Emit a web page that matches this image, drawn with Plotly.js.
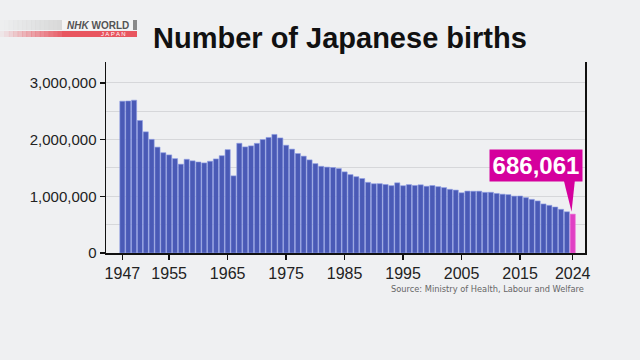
<!DOCTYPE html>
<html><head><meta charset="utf-8">
<script src="https://cdn.plot.ly/plotly-3.0.1.min.js"></script>
<style>html,body{margin:0;padding:0;background:#eff0f2;}#chart{width:640px;height:360px;}</style>
</head><body><div id="chart"></div>
<script>
const years = [];
for (let y = 1947; y <= 2024; y++) years.push(y);
const births = [
2678792,2681624,2696638,2337507,2137689,2005162,1868040,1769580,1730692,1665278,
1566713,1653469,1626088,1606041,1589372,1618616,1659521,1716761,1823697,1360974,
1935647,1871839,1889815,1934239,2000973,2038682,2091983,2029989,1901440,1832617,
1755100,1708643,1642580,1576889,1529455,1515392,1508687,1489780,1431577,1382946,
1346658,1314006,1246802,1221585,1223245,1208989,1188282,1238328,1187064,1206555,
1191665,1203147,1177669,1190547,1170662,1153855,1123610,1110721,1062530,1092674,
1089818,1091156,1070036,1071304,1050806,1037231,1029816,1003539,1005721,977242,
946146,918400,865239,840835,811622,770759,727288,686061];
const xTickVals = [1947,1955,1965,1975,1985,1995,2005,2015,2024];
const yTickVals = [0,1000000,2000000,3000000];
const yTickText = ['0','1,000,000','2,000,000','3,000,000'];
const highlightLabel = '686,061';
const titleText = 'Number of Japanese births';
const sourceText = 'Source: Ministry of Health, Labour and Welfare';

const lastYear = years[years.length-1];
const lastVal = births[births.length-1];
const colors = years.map((y,i)=> i===years.length-1 ? '#e03fc4' : '#4a5ab6');
const lineColors = years.map((y,i)=> i===years.length-1 ? '#f070d8' : '#8f9ee6');

const boxBottom = 1290000;
const shapes = [
  {type:'path', xref:'x', yref:'y',
   path:`M ${lastYear-1.6} ${boxBottom+20000} L ${lastYear+0.4} ${boxBottom+20000} L ${lastYear-0.2} ${lastVal+40000} Z`,
   fillcolor:'#d5009d', line:{width:0}}
];
const W=640,H=360,ml=106,mr=55,mt=62,mb=107;
const pw=W-ml-mr, ph=H-mt-mb;
function px(x){return (x-ml)/pw;}
function py(y){return 1-(y-mt)/ph;}
const n=14;
for(let i=0;i<n;i++){
  const x0=i*(62/n), x1=(i+1)*(62/n)+0.5;
  shapes.push({type:'rect',xref:'paper',yref:'paper',x0:px(x0),x1:px(x1),y0:py(30),y1:py(20),
    fillcolor:'#d6d6d6',opacity:(i+1)/n*0.9,line:{width:0},layer:'above'});
  shapes.push({type:'rect',xref:'paper',yref:'paper',x0:px(x0),x1:px(x1),y0:py(37),y1:py(31),
    fillcolor:'#e8646e',opacity:(i+1)/n,line:{width:0},layer:'above'});
}
shapes.push({type:'rect',xref:'paper',yref:'paper',x0:px(62),x1:px(133),y0:py(30),y1:py(20),fillcolor:'#f4f4f4',line:{width:0}});
shapes.push({type:'rect',xref:'paper',yref:'paper',x0:px(133),x1:px(137),y0:py(30),y1:py(20),fillcolor:'#8a8a8a',line:{width:0}});
shapes.push({type:'rect',xref:'paper',yref:'paper',x0:px(62),x1:px(137),y0:py(37),y1:py(31),fillcolor:'#e8555f',line:{width:0}});

const annotations = [
  {xref:'paper',yref:'paper',x:px(340),y:py(38),text:'<b>'+titleText+'</b>',showarrow:false,
   font:{family:'Liberation Sans, Arial, sans-serif',size:29,color:'#111'},xanchor:'center',yanchor:'middle'},
  {xref:'paper',yref:'paper',x:px(586),y:py(288),text:sourceText,showarrow:false,
   font:{family:'Liberation Sans Narrow, DejaVu Sans Condensed, Arial Narrow, sans-serif',size:9.2,color:'#666'},xanchor:'right',yanchor:'middle'},
  {xref:'paper',yref:'paper',x:px(536),y:py(165),text:'<b>'+highlightLabel+'</b>',showarrow:false,
   xanchor:'center',yanchor:'middle',bgcolor:'#d5009d',borderpad:0,width:92,height:31,
   font:{family:'Liberation Sans, Arial, sans-serif',size:24,color:'#fff'}},
  {xref:'paper',yref:'paper',x:px(98),y:py(25),text:'<b><i>NHK</i></b> <b>WORLD</b>',showarrow:false,xanchor:'center',yanchor:'middle',
   font:{family:'Liberation Sans, Arial, sans-serif',size:10,color:'#555'}},
  {xref:'paper',yref:'paper',x:px(113),y:py(34),text:'J A P A N',showarrow:false,xanchor:'center',yanchor:'middle',
   font:{family:'Liberation Sans, Arial, sans-serif',size:6,color:'#fff'}}
];

Plotly.newPlot('chart',[{
  type:'bar', x:years, y:births,
  marker:{color:colors,line:{color:lineColors,width:0.6}},
  hoverinfo:'none'
}],{
  width:640,height:360,
  paper_bgcolor:'#eff0f2',plot_bgcolor:'#eff0f2',
  margin:{l:ml,r:mr,t:mt,b:mb,pad:0},
  bargap:0.12,showlegend:false,
  font:{family:'Liberation Sans, Arial, sans-serif',color:'#222'},
  xaxis:{range:[1944.2,2026.1],tickvals:xTickVals,ticktext:xTickVals.map(String),
    ticks:'outside',ticklen:5,tickcolor:'#111',tickwidth:1.5,showgrid:false,zeroline:false,
    showline:true,linecolor:'#111',linewidth:1.5,tickfont:{size:16,color:'#222'}},
  yaxis:{range:[0,3370000],tickvals:yTickVals,ticktext:yTickText,
    ticks:'outside',ticklen:5,tickcolor:'#111',tickwidth:1.5,
    showgrid:true,gridcolor:'#d6d7da',gridwidth:1,zeroline:false,
    minor:{tickvals:[500000,1500000,2500000],showgrid:true,gridcolor:'#d6d7da',gridwidth:1,ticks:''},
    showline:true,mirror:true,linecolor:'#111',linewidth:1.5,tickfont:{size:15,color:'#222'}},
  shapes:shapes, annotations:annotations
},{staticPlot:true,displayModeBar:false});
</script></body></html>
